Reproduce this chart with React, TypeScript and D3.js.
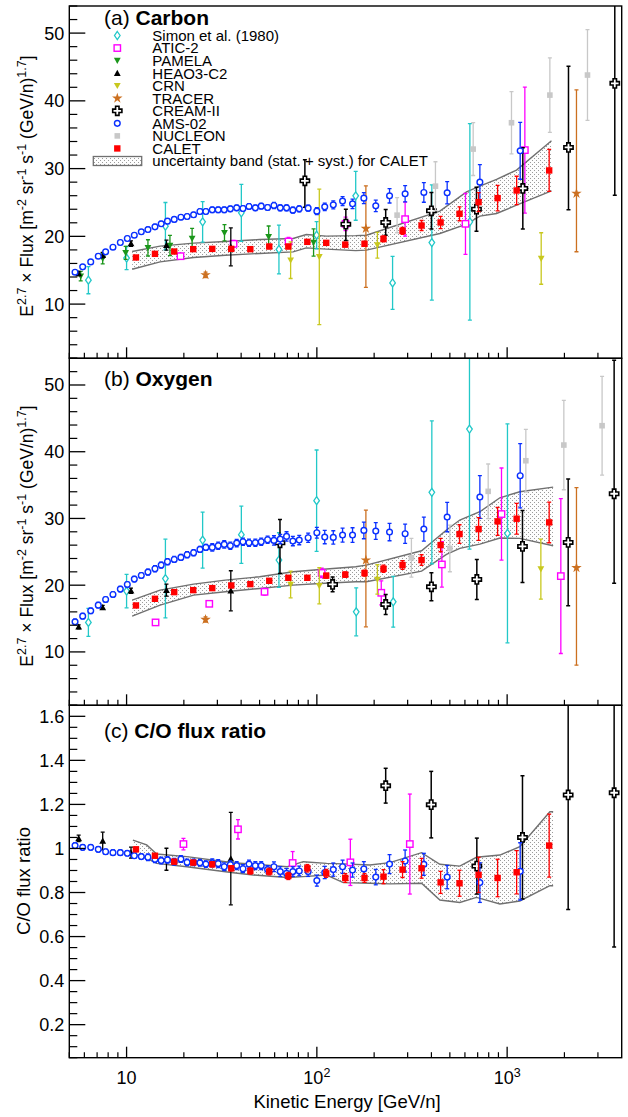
import React from "react";
import * as d3 from "d3";

// ---------------- data ----------------
const amsE = [5.36, 5.88, 6.48, 7.1, 7.76, 8.48, 9.27, 10.09, 10.98, 11.95, 12.95, 14.1, 15.2, 16.4, 17.8, 19.3, 20.8, 22.5, 24.3, 26.1, 28.2, 30.3, 32.6, 35.1, 37.9, 40.9, 44.0, 47.5, 51.0, 55.1, 59.5, 64.2, 69.3, 74.8, 80.8, 90, 100, 110, 122, 136.5, 154, 176.6, 204, 241, 291, 365, 484, 719, 1171];
const amsC = [14.71, 15.5, 16.23, 17.07, 17.71, 18.4, 19.09, 19.68, 20.17, 20.67, 21.0, 21.4, 21.85, 22.24, 22.5, 22.83, 22.93, 23.18, 23.67, 23.67, 23.92, 23.92, 23.92, 24.06, 24.21, 24.11, 24.41, 24.21, 24.46, 24.26, 24.56, 24.21, 24.21, 23.87, 24.06, 24.16, 23.72, 24.36, 24.65, 25.2, 24.8, 25.64, 24.5, 25.98, 26.28, 26.48, 26.43, 28.0, 32.63];
const amsCErr = [0.3, 0.3, 0.3, 0.3, 0.3, 0.3, 0.3, 0.3, 0.3, 0.3, 0.35, 0.35, 0.35, 0.35, 0.35, 0.35, 0.35, 0.35, 0.35, 0.35, 0.4, 0.4, 0.4, 0.4, 0.4, 0.4, 0.4, 0.4, 0.4, 0.4, 0.45, 0.45, 0.45, 0.45, 0.45, 0.45, 0.5, 0.55, 0.6, 0.65, 0.7, 0.8, 0.86, 1.06, 1.2, 1.45, 1.65, 2.6, 4.2];
const amsO = [14.51, 15.36, 16.16, 17.01, 17.86, 18.61, 19.41, 20.11, 20.91, 21.46, 21.96, 22.46, 23.01, 23.51, 23.86, 24.16, 24.56, 24.86, 25.36, 25.66, 25.66, 25.91, 26.11, 25.91, 26.31, 26.51, 26.36, 26.36, 26.51, 26.81, 26.71, 26.91, 27.31, 26.61, 26.76, 27.11, 27.86, 27.21, 27.16, 27.51, 27.51, 28.21, 28.11, 27.96, 27.71, 28.41, 30.21, 33.21, 36.4];
const amsOErr = [0.4, 0.4, 0.4, 0.4, 0.4, 0.4, 0.4, 0.4, 0.4, 0.4, 0.45, 0.45, 0.45, 0.45, 0.45, 0.45, 0.45, 0.45, 0.45, 0.45, 0.55, 0.55, 0.55, 0.55, 0.55, 0.55, 0.55, 0.55, 0.55, 0.55, 0.7, 0.7, 0.7, 0.7, 0.7, 0.7, 0.8, 1.0, 1.0, 1.05, 1.1, 1.25, 1.25, 1.3, 1.45, 1.8, 2.2, 3.2, 4.8];
const amsCO = [1.013, 1.005, 1.005, 0.996, 0.985, 0.981, 0.981, 0.978, 0.967, 0.963, 0.96, 0.951, 0.945, 0.948, 0.94, 0.952, 0.937, 0.937, 0.935, 0.929, 0.935, 0.931, 0.917, 0.926, 0.922, 0.908, 0.929, 0.922, 0.922, 0.904, 0.917, 0.895, 0.887, 0.895, 0.898, 0.895, 0.854, 0.891, 0.904, 0.917, 0.902, 0.907, 0.87, 0.929, 0.943, 0.928, 0.87, 0.845, 0.896];
const amsCOErr = [0.012, 0.012, 0.012, 0.012, 0.012, 0.012, 0.012, 0.012, 0.012, 0.012, 0.015, 0.015, 0.015, 0.015, 0.015, 0.015, 0.015, 0.015, 0.015, 0.015, 0.018, 0.018, 0.018, 0.018, 0.018, 0.018, 0.018, 0.018, 0.018, 0.018, 0.022, 0.022, 0.022, 0.022, 0.022, 0.022, 0.025, 0.028, 0.03, 0.03, 0.032, 0.033, 0.035, 0.043, 0.05, 0.05, 0.053, 0.09, 0.13];

const caletE = [11.2, 14.1, 17.8, 22.4, 28.2, 35.5, 44.7, 56.2, 70.8, 89.1, 112, 141, 178, 224, 282, 355, 447, 562, 708, 891, 1122, 1663];
const caletC = [16.88, 17.42, 17.76, 18.11, 18.15, 18.15, 18.11, 18.5, 18.5, 19.19, 19.04, 18.78, 18.9, 19.63, 20.81, 21.6, 22.05, 23.33, 25.05, 25.64, 26.77, 29.73];
const caletCErr = [0.25, 0.25, 0.25, 0.25, 0.25, 0.25, 0.28, 0.3, 0.3, 0.3, 0.32, 0.32, 0.35, 0.45, 0.5, 0.74, 0.91, 1.03, 1.4, 1.87, 2.1, 3.1];
const caletO = [16.96, 17.96, 18.96, 19.26, 19.56, 19.96, 20.16, 20.66, 21.11, 21.11, 21.43, 21.58, 21.81, 22.46, 23.01, 23.76, 26.01, 27.66, 28.41, 29.56, 29.96, 29.41];
const caletOErr = [0.25, 0.25, 0.25, 0.25, 0.25, 0.28, 0.3, 0.3, 0.3, 0.32, 0.35, 0.4, 0.45, 0.55, 0.65, 0.8, 1.0, 1.4, 1.7, 2.1, 2.3, 3.05];
const caletCO = [0.996, 0.967, 0.94, 0.936, 0.928, 0.91, 0.898, 0.895, 0.875, 0.91, 0.887, 0.866, 0.866, 0.872, 0.904, 0.91, 0.846, 0.842, 0.88, 0.866, 0.892, 1.013];
const caletCOErr = [0.01, 0.01, 0.01, 0.01, 0.012, 0.012, 0.014, 0.015, 0.016, 0.017, 0.018, 0.02, 0.02, 0.032, 0.036, 0.045, 0.05, 0.059, 0.08, 0.085, 0.098, 0.143];

const bandCE = [10.7, 15, 22.5, 33, 50, 75, 88, 112, 160, 182, 443, 612, 719, 880, 1120, 1710];
const bandCHi = [17.76, 18.55, 19.0, 19.24, 19.53, 19.68, 20.27, 20.03, 20.1, 20.17, 23.72, 26.57, 27.4, 28.4, 29.78, 34.1];
const bandCLo = [15.15, 16.23, 16.88, 17.22, 17.47, 17.71, 18.3, 18.11, 17.9, 17.96, 20.42, 21.8, 22.98, 23.37, 24.6, 26.72];
const bandOE = [10.7, 15, 22.5, 33, 50, 75, 104, 160, 182, 355, 480, 564, 719, 916, 1166, 1745];
const bandOHi = [17.76, 19.26, 20.16, 20.76, 21.26, 22.01, 22.36, 22.76, 23.01, 25.16, 28.26, 29.76, 31.01, 33.1, 34.0, 34.7];
const bandOLo = [15.36, 17.01, 18.51, 19.01, 19.51, 20.01, 20.26, 20.51, 20.51, 22.11, 24.61, 25.51, 26.16, 27.06, 27.01, 25.91];
const bandCOE = [10.8, 12.75, 14.4, 20.7, 36.4, 46.3, 70, 84.8, 112.5, 137.6, 190, 242, 355, 443, 564, 690, 916, 1166, 1677, 1745];
const bandCOHi = [1.038, 1.016, 0.975, 0.963, 0.935, 0.929, 0.917, 0.94, 0.9325, 0.93, 0.925, 0.9355, 0.981, 0.928, 0.92, 0.96, 0.97, 1.008, 1.167, 1.167];
const bandCOLo = [0.975, 0.955, 0.9325, 0.917, 0.89, 0.8795, 0.868, 0.872, 0.8795, 0.845, 0.842, 0.839, 0.842, 0.766, 0.755, 0.778, 0.748, 0.7615, 0.831, 0.831];

const simonCE = [6.3, 10, 16, 25.1, 40.1, 63.2, 99.7, 160, 250, 402, 637];
const simonC = [13.53, 16.8, 21.5, 22.14, 23.47, 18.06, 20.17, 25.98, 13.13, 19.09, 22.14];
const simonCErr = [2, 1.7, 3.5, 3, 4.2, 3.6, 2, 3.6, 3.9, 8.5, 14.5];
const simonOE = [6.3, 10, 16, 25.1, 40.1, 63.2, 99.7, 161, 252, 402, 634, 1004];
const simonO = [14.42, 19.11, 21.0, 26.76, 27.56, 23.76, 32.66, 16.01, 17.51, 33.91, 43.4, 27.76];
const simonOErr = [2.1, 2.5, 5.9, 4.2, 4.3, 4.1, 7.6, 3.6, 3.8, 10.7, 18, 16.4];

const aticCE = [19.2, 36.5, 71, 141.5, 291, 604, 1239];
const aticC = [17.07, 18.9, 19.24, 21.85, 22.54, 21.85, 32.73];
const aticCErr = [0.4, 0.5, 0.6, 1.0, 2.5, 4.5, 9.3];
const aticOE = [14.2, 27.2, 53.1, 106, 218, 454, 934, 1915];
const aticO = [14.42, 17.21, 19.01, 21.84, 18.86, 23.11, 30.66, 21.36];
const aticOErr = [0.3, 0.4, 0.5, 0.7, 1.8, 3.4, 6.9, 11.6];
const aticCOE = [19.9, 38.5, 74.6, 150, 308];
const aticCO = [1.02, 1.087, 0.934, 0.937, 1.02];
const aticCOErr = [0.026, 0.044, 0.052, 0.105, 0.227];

const pamelaCE = [5.74, 7.49, 9.89, 12.95, 16.9, 22.1, 32.7, 55.8, 96.1];
const pamelaC = [14.12, 16.73, 17.56, 18.3, 18.65, 19.68, 20.52, 19.93, 19.09];
const pamelaCErr = [0.7, 0.8, 0.95, 1.2, 1.5, 1.5, 1.2, 1.6, 2];

const heaoE = [5.6, 7.49, 10.55, 16.2, 35.3];
const heaoC = [14.51, 17.22, 18.94, 18.7, 18.45];
const heaoCErr = [0.3, 0.4, 0.4, 0.74, 2.8];
const heaoO = [13.76, 16.66, 19.16, 19.26, 19.16];
const heaoOErr = [0.3, 0.3, 0.4, 0.9, 3];
const heaoCO = [1.046, 1.034, 0.981, 0.951, 0.954];
const heaoCOErr = [0.015, 0.04, 0.025, 0.05, 0.21];

const crnCE = [72.8, 103, 208, 1510];
const crnC = [16.48, 16.97, 18.7, 16.73];
const crnCErr = [2.7, 10, 1.9, 3.8];
const crnOE = [72.8, 103, 208, 1504];
const crnO = [20.11, 19.91, 20.86, 22.41];
const crnOErr = [2.0, 2.7, 2.2, 4.5];

const tracerE = [26, 181, 2314];
const tracerC = [14.31, 21.16, 26.33];
const tracerCUp = [0.4, 6.3, 15.3];
const tracerCDn = [0.4, 8.7, 8.6];
const tracerO = [14.86, 23.76, 22.61];
const tracerOUp = [0.4, 7.5, 12];
const tracerODn = [0.4, 10, 14.6];

const creamCE = [86.5, 142, 230, 400, 690, 1209, 2101, 3679];
const creamC = [28.2, 21.8, 22.05, 23.77, 24.01, 27.07, 33.12, 42.58];
const creamCUp = [3.1, 2.2, 1.9, 2.7, 3.25, 6, 12, 15];
const creamCDn = [3.9, 2.4, 1.9, 2.7, 3.25, 6, 9.2, 16.5];
const creamOE = [64, 121, 230, 400, 693, 1204, 2093, 3650];
const creamO = [26.36, 20.11, 17.11, 19.76, 20.86, 25.81, 26.41, 33.7];
const creamOUp = [3.5, 1.1, 1.5, 2.1, 3, 5.4, 9.5, 20];
const creamODn = [4.6, 1.1, 1.5, 2.1, 3, 5.4, 9.5, 13.4];
const creamCOE = [230, 399, 693, 1204, 2093, 3650];
const creamCO = [1.285, 1.199, 0.92, 1.05, 1.243, 1.253];
const creamCOErr = [0.079, 0.151, 0.127, 0.28, 0.52, 0.7];

const nucleonCE = [264, 420, 663, 1054, 1677, 2644];
const nucleonC = [23.13, 27.41, 32.88, 36.77, 40.85, 43.81];
const nucleonCErr = [2.6, 3.6, 3.9, 4.6, 5.5, 6.7];
const nucleonOE = [314, 500, 795, 1254, 1986, 3155];
const nucleonO = [24.11, 25.51, 34.06, 38.65, 41.0, 43.9];
const nucleonOErr = [2.9, 3.5, 4.1, 4.7, 6.7, 7.4];

const legendNames = ["Simon et al. (1980)", "ATIC-2", "PAMELA", "HEAO3-C2", "CRN", "TRACER", "CREAM-II", "AMS-02", "NUCLEON", "CALET"];
const bandLabel = "uncertainty band (stat. + syst.) for CALET";
const fluxTicks = [10, 20, 30, 40, 50];
const ratioTicks = [0.2, 0.4, 0.6, 0.8, 1, 1.2, 1.4, 1.6];
const energyTicks = [10, 100, 1000];

// ---------------- styles ----------------
const FONT = "'Liberation Sans', Arial, Helvetica, sans-serif";
const COL: Record<string, string> = {
  simon: "#22c8c8",
  atic: "#ff00ff",
  pamela: "#1a961a",
  heao: "#000000",
  crn: "#c8c81e",
  tracer: "#cc7020",
  cream: "#000000",
  ams: "#0a30ff",
  nucleon: "#c8c8c8",
  calet: "#ff0000",
};
const KIND: Record<string, string> = {
  simon: "diamond",
  atic: "osquare",
  pamela: "tdown",
  heao: "tup",
  crn: "tdown",
  tracer: "star",
  cream: "cross",
  ams: "circle",
  nucleon: "gsquare",
  calet: "fsquare",
};
const KEYS = ["simon", "atic", "pamela", "heao", "crn", "tracer", "cream", "ams", "nucleon", "calet"];

const X0 = 69.3;
const X1 = 621.7;
const x = d3.scaleLog().domain([5, 4000]).range([X0, X1]);

type Series = { key: string; E: number[]; V: number[]; up: number[]; dn?: number[] };
type PanelDef = {
  id: string;
  top: number;
  bottom: number;
  lo: number;
  hi: number;
  major: number[];
  minorStep: number;
  series: Series[];
  band: { E: number[]; hi: number[]; lo: number[] };
  label: string;
  bold: string;
  labelY: number;
};

const panels: PanelDef[] = [
  {
    id: "a", top: 6, bottom: 358.3, lo: 2, hi: 54, major: fluxTicks, minorStep: 2,
    series: [
      { key: "simon", E: simonCE, V: simonC, up: simonCErr },
      { key: "atic", E: aticCE, V: aticC, up: aticCErr },
      { key: "pamela", E: pamelaCE, V: pamelaC, up: pamelaCErr },
      { key: "heao", E: heaoE, V: heaoC, up: heaoCErr },
      { key: "crn", E: crnCE, V: crnC, up: crnCErr },
      { key: "tracer", E: tracerE, V: tracerC, up: tracerCUp, dn: tracerCDn },
      { key: "cream", E: creamCE, V: creamC, up: creamCUp, dn: creamCDn },
      { key: "nucleon", E: nucleonCE, V: nucleonC, up: nucleonCErr },
      { key: "ams", E: amsE, V: amsC, up: amsCErr },
      { key: "calet", E: caletE, V: caletC, up: caletCErr },
    ],
    band: { E: bandCE, hi: bandCHi, lo: bandCLo },
    label: "(a) ", bold: "Carbon", labelY: 25,
  },
  {
    id: "b", top: 358.3, bottom: 705.3, lo: 2, hi: 54, major: fluxTicks, minorStep: 2,
    series: [
      { key: "simon", E: simonOE, V: simonO, up: simonOErr },
      { key: "atic", E: aticOE, V: aticO, up: aticOErr },
      { key: "heao", E: heaoE, V: heaoO, up: heaoOErr },
      { key: "crn", E: crnOE, V: crnO, up: crnOErr },
      { key: "tracer", E: tracerE, V: tracerO, up: tracerOUp, dn: tracerODn },
      { key: "cream", E: creamOE, V: creamO, up: creamOUp, dn: creamODn },
      { key: "nucleon", E: nucleonOE, V: nucleonO, up: nucleonOErr },
      { key: "ams", E: amsE, V: amsO, up: amsOErr },
      { key: "calet", E: caletE, V: caletO, up: caletOErr },
    ],
    band: { E: bandOE, hi: bandOHi, lo: bandOLo },
    label: "(b) ", bold: "Oxygen", labelY: 386,
  },
  {
    id: "c", top: 705.3, bottom: 1057.7, lo: 0.05, hi: 1.65, major: ratioTicks, minorStep: 0.05,
    series: [
      { key: "atic", E: aticCOE, V: aticCO, up: aticCOErr },
      { key: "heao", E: heaoE, V: heaoCO, up: heaoCOErr },
      { key: "cream", E: creamCOE, V: creamCO, up: creamCOErr },
      { key: "ams", E: amsE, V: amsCO, up: amsCOErr },
      { key: "calet", E: caletE, V: caletCO, up: caletCOErr },
    ],
    band: { E: bandCOE, hi: bandCOHi, lo: bandCOLo },
    label: "(c) ", bold: "C/O flux ratio", labelY: 738,
  },
];

function Marker({ kind, cx, cy, color }: { kind: string; cx: number; cy: number; color: string }) {
  switch (kind) {
    case "circle":
      return <circle cx={cx} cy={cy} r={2.85} fill="white" stroke={color} strokeWidth={1.4} />;
    case "fsquare":
      return <rect x={cx - 3.2} y={cy - 3.2} width={6.4} height={6.4} fill={color} />;
    case "gsquare":
      return <rect x={cx - 2.8} y={cy - 2.8} width={5.6} height={5.6} fill={color} />;
    case "osquare":
      return <rect x={cx - 3.2} y={cy - 3.2} width={6.4} height={6.4} fill="white" stroke={color} strokeWidth={1.4} />;
    case "diamond":
      return <path d={`M${cx},${cy - 4}L${cx + 2.8},${cy}L${cx},${cy + 4}L${cx - 2.8},${cy}Z`} fill="white" stroke={color} strokeWidth={1.3} />;
    case "tdown":
      return <path d={`M${cx - 3.4},${cy - 2.8}L${cx + 3.4},${cy - 2.8}L${cx},${cy + 3.4}Z`} fill={color} />;
    case "tup":
      return <path d={`M${cx - 3.4},${cy + 2.8}L${cx + 3.4},${cy + 2.8}L${cx},${cy - 3.4}Z`} fill={color} />;
    case "star":
      return <path d={d3.symbol(d3.symbolStar, 34)() || ""} transform={`translate(${cx},${cy})`} fill={color} />;
    case "cross": {
      const a = 1.7, b = 4.6;
      const pts = [[-a, -b], [a, -b], [a, -a], [b, -a], [b, a], [a, a], [a, b], [-a, b], [-a, a], [-b, a], [-b, -a], [-a, -a]];
      return <polygon points={pts.map((p) => `${cx + p[0]},${cy + p[1]}`).join(" ")} fill="white" stroke={color} strokeWidth={1.6} />;
    }
    default:
      return null;
  }
}

function Panel({ p }: { p: PanelDef }) {
  const y = d3.scaleLinear().domain([p.lo, p.hi]).range([p.bottom, p.top]);
  const clipId = `clip-${p.id}`;
  const edgeLine = d3.line<number>().x((_, i) => x(p.band.E[i])).y((v) => y(v));
  const bandArea = d3
    .area<number>()
    .x((_, i) => x(p.band.E[i]))
    .y0((_, i) => y(p.band.lo[i]))
    .y1((v) => y(v));
  const minors: number[] = [];
  const nMin = Math.round((p.hi - p.lo) / p.minorStep);
  for (let k = 0; k <= nMin; k++) {
    const v = +(p.lo + k * p.minorStep).toFixed(4);
    if (!p.major.some((m) => Math.abs(m - v) < 1e-6)) minors.push(v);
  }
  const xMinor: number[] = [];
  [1, 10, 100, 1000].forEach((d) => {
    for (let m = 2; m <= 9; m++) {
      const v = d * m;
      if (v > 5 - 1e-9 && v < 4000) xMinor.push(v);
    }
  });
  const isBottom = p.id === "c";
  return (
    <g>
      <clipPath id={clipId}>
        <rect x={X0} y={p.top} width={X1 - X0} height={p.bottom - p.top} />
      </clipPath>
      <g clipPath={`url(#${clipId})`}>
        <path d={bandArea(p.band.hi) || ""} fill="url(#dots)" stroke="none" />
        <path d={edgeLine(p.band.hi) || ""} fill="none" stroke="#707070" strokeWidth={1.4} />
        <path d={edgeLine(p.band.lo) || ""} fill="none" stroke="#707070" strokeWidth={1.4} />
        {p.series.map((s) => {
          const color = COL[s.key];
          const kind = KIND[s.key];
          const bw = s.key === "cream" ? 1.5 : 1.3;
          return (
            <g key={s.key}>
              {s.E.map((e, i) => {
                const cx = x(e);
                const yHi = y(s.V[i] + s.up[i]);
                const yLo = y(s.V[i] - (s.dn ? s.dn[i] : s.up[i]));
                return (
                  <g key={`e${i}`} stroke={color} strokeWidth={bw}>
                    <line x1={cx} x2={cx} y1={yHi} y2={yLo} />
                    <line x1={cx - 2} x2={cx + 2} y1={yHi} y2={yHi} />
                    <line x1={cx - 2} x2={cx + 2} y1={yLo} y2={yLo} />
                  </g>
                );
              })}
              {s.E.map((e, i) => (
                <Marker key={`m${i}`} kind={kind} cx={x(e)} cy={y(s.V[i])} color={color} />
              ))}
            </g>
          );
        })}
      </g>
      <rect x={X0} y={p.top} width={X1 - X0} height={p.bottom - p.top} fill="none" stroke="black" strokeWidth={1.4} />
      {p.major.map((v) => (
        <g key={`ym${v}`}>
          <line x1={X0} x2={X0 + 16} y1={y(v)} y2={y(v)} stroke="black" strokeWidth={1.3} />
          <text x={X0 - 5} y={y(v)} dy="0.36em" textAnchor="end" fontSize={18} fontFamily={FONT}>
            {String(v)}
          </text>
        </g>
      ))}
      {minors.map((v) => (
        <line key={`yn${v}`} x1={X0} x2={X0 + 8} y1={y(v)} y2={y(v)} stroke="black" strokeWidth={1.2} />
      ))}
      {energyTicks.map((v) => (
        <line key={`xm${v}`} x1={x(v)} x2={x(v)} y1={p.bottom} y2={p.bottom - 11} stroke="black" strokeWidth={1.3} />
      ))}
      {xMinor.map((v) => (
        <line key={`xn${v}`} x1={x(v)} x2={x(v)} y1={p.bottom} y2={p.bottom - 5.5} stroke="black" strokeWidth={1.2} />
      ))}
      {isBottom &&
        energyTicks.map((v, i) => (
          <text key={`xl${v}`} x={x(v)} y={1084} textAnchor="middle" fontSize={18} fontFamily={FONT}>
            10
            {i > 0 && (
              <tspan fontSize={12.5} dy={-7}>
                {String(i + 1)}
              </tspan>
            )}
          </text>
        ))}
      <text x={104} y={p.labelY} fontSize={21} fontFamily={FONT}>
        {p.label}
        <tspan fontWeight="bold">{p.bold}</tspan>
      </text>
    </g>
  );
}

function FluxTitle({ cy }: { cy: number }) {
  const sup = { fontSize: 12.5 };
  return (
    <text transform={`translate(33,${cy}) rotate(-90)`} textAnchor="middle" fontSize={17.5} fontFamily={FONT}>
      E
      <tspan dy={-7.5} {...sup}>2.7</tspan>
      <tspan dy={7.5}> × Flux [m</tspan>
      <tspan dy={-7.5} {...sup}>-2</tspan>
      <tspan dy={7.5}> sr</tspan>
      <tspan dy={-7.5} {...sup}>-1</tspan>
      <tspan dy={7.5}> s</tspan>
      <tspan dy={-7.5} {...sup}>-1</tspan>
      <tspan dy={7.5}> (GeV/n)</tspan>
      <tspan dy={-7.5} {...sup}>1.7</tspan>
      <tspan dy={7.5}>]</tspan>
    </text>
  );
}

export default function App() {
  const legX = 117.3;
  const legTextX = 152.3;
  const legY0 = 35.5;
  const legStep = 12.55;
  return (
    <svg
      width={628}
      height={1117}
      viewBox="0 0 628 1117"
      style={{ position: "absolute", left: 0, top: 0, background: "white" }}
    >
      <defs>
        <pattern id="dots" width={4} height={4} patternUnits="userSpaceOnUse">
          <rect width={4} height={4} fill="#fdfdfd" />
          <rect x={0} y={0} width={1} height={1} fill="#9a9a9a" />
          <rect x={2} y={2} width={1} height={1} fill="#9a9a9a" />
        </pattern>
      </defs>
      <rect x={0} y={0} width={628} height={1117} fill="white" />
      {panels.map((p) => (
        <Panel key={p.id} p={p} />
      ))}
      <g fontFamily={FONT} fontSize={15}>
        {KEYS.map((k, i) => (
          <g key={k}>
            <Marker kind={KIND[k]} cx={legX} cy={legY0 + i * legStep} color={COL[k]} />
            <text x={legTextX} y={legY0 + i * legStep} dy="0.36em">
              {legendNames[i]}
            </text>
          </g>
        ))}
        <rect x={93.3} y={156.5} width={48.4} height={9} fill="url(#dots)" stroke="#707070" strokeWidth={1.3} />
        <text x={legTextX} y={legY0 + 10 * legStep} dy="0.36em">
          {bandLabel}
        </text>
      </g>
      <FluxTitle cy={186} />
      <FluxTitle cy={536} />
      <text transform={`translate(30,881) rotate(-90)`} textAnchor="middle" fontSize={18.5} fontFamily={FONT}>
        C/O flux ratio
      </text>
      <text x={347} y={1108} textAnchor="middle" fontSize={18.5} fontFamily={FONT}>
        Kinetic Energy [GeV/n]
      </text>
    </svg>
  );
}
